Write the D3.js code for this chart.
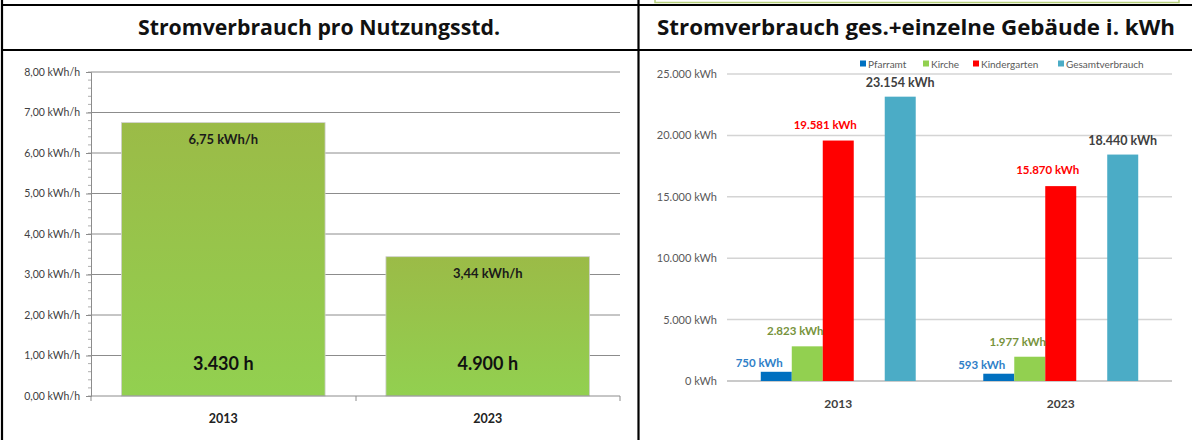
<!DOCTYPE html>
<html>
<head>
<meta charset="utf-8">
<script src="https://cdn.jsdelivr.net/npm/d3@7"></script>
<style>
  body { margin: 0; background: #fff; }
  svg { display: block; font-family: Lato, "Open Sans", sans-serif; }
</style>
</head>
<body>
<svg id="chart" width="1192" height="440"></svg>
<script>
// data
const years = ["2013", "2023"];
const kwhPerHour = [6.75, 3.44];
const usageHours = [3430, 4900];
const hourTicks = [0, 1, 2, 3, 4, 5, 6, 7, 8];

const seriesNames = ["Pfarramt", "Kirche", "Kindergarten", "Gesamtverbrauch"];
const pfarramt = [750, 593];
const kirche = [2823, 1977];
const kindergarten = [19581, 15870];
const gesamt = [23154, 18440];
const kwhTicks = [0, 5000, 10000, 15000, 20000, 25000];

const de = d3.formatLocale({decimal: ",", thousands: ".", grouping: [3], currency: ["", "€"]});
const f2 = de.format(",.2f");
const f0 = de.format(",.0f");

const svg = d3.select("#chart");

// table frame
const frame = svg.append("g").attr("stroke", "#000").attr("stroke-width", 2.2);
frame.append("rect").attr("x", 655).attr("y", -2).attr("width", 524).attr("height", 4.5)
  .attr("fill", "none").attr("stroke", "#b5cf7a").attr("stroke-width", 1.5);
frame.append("line").attr("x1", 2).attr("x2", 1192).attr("y1", 5).attr("y2", 5);
frame.append("line").attr("x1", 2).attr("x2", 1192).attr("y1", 50).attr("y2", 50);
frame.append("line").attr("x1", 2).attr("x2", 2).attr("y1", 0).attr("y2", 440);
frame.append("line").attr("x1", 638.5).attr("x2", 638.5).attr("y1", 0).attr("y2", 440);

svg.append("text").attr("x", 319).attr("y", 35).attr("text-anchor", "middle")
  .attr("font-family", "'Open Sans', sans-serif")
  .attr("font-size", 21).attr("font-weight", "bold").attr("fill", "#111")
  .attr("textLength", 362).attr("lengthAdjust", "spacingAndGlyphs")
  .text("Stromverbrauch pro Nutzungsstd.");
svg.append("text").attr("x", 916).attr("y", 35).attr("text-anchor", "middle")
  .attr("font-family", "'Open Sans', sans-serif")
  .attr("font-size", 21).attr("font-weight", "bold").attr("fill", "#111")
  .attr("textLength", 518).attr("lengthAdjust", "spacingAndGlyphs")
  .text("Stromverbrauch ges.+einzelne Gebäude i. kWh");

// ---------- left chart ----------
const lx = d3.scaleBand().domain(years).range([91, 620]).paddingInner(0.23).paddingOuter(0.115);
const ly = d3.scaleLinear().domain([0, 8]).range([396, 72]);

const defs = svg.append("defs");
const grad = defs.append("linearGradient").attr("id", "barGrad")
  .attr("x1", 0).attr("x2", 0).attr("y1", 0).attr("y2", 1);
grad.append("stop").attr("offset", "0%").attr("stop-color", "#9bbb47");
grad.append("stop").attr("offset", "100%").attr("stop-color", "#92d050");

const left = svg.append("g");

left.append("g")
  .selectAll("line").data(hourTicks.slice(1)).join("line")
  .attr("x1", 91).attr("x2", 620)
  .attr("y1", d => ly(d)).attr("y2", d => ly(d))
  .attr("stroke", "#8c8c8c").attr("stroke-width", 1);

left.append("g")
  .selectAll("rect").data(years).join("rect")
  .attr("x", d => lx(d)).attr("width", lx.bandwidth())
  .attr("y", (d, i) => ly(kwhPerHour[i]))
  .attr("height", (d, i) => ly(0) - ly(kwhPerHour[i]))
  .attr("fill", "url(#barGrad)")
  .attr("stroke", "#d0d0d0").attr("stroke-width", 0.8);

// minor ticks
const minor = d3.range(0, 8.001, 0.2);
left.append("g")
  .selectAll("line").data(minor).join("line")
  .attr("x1", 88).attr("x2", 91)
  .attr("y1", d => ly(d)).attr("y2", d => ly(d))
  .attr("stroke", "#999").attr("stroke-width", 0.8);

const lAxis = left.append("g").attr("transform", "translate(91,0)")
  .call(d3.axisLeft(ly).tickValues(hourTicks).tickSize(5).tickPadding(6)
    .tickFormat(d => f2(d) + " kWh/h"));
lAxis.select(".domain").attr("stroke", "#8c8c8c");
lAxis.selectAll(".tick line").attr("stroke", "#8c8c8c");
lAxis.selectAll("text").attr("font-family", "Lato, sans-serif").attr("font-size", 10.5).attr("fill", "#404040");

const lxAxis = left.append("g").attr("transform", "translate(0,396)");
lxAxis.append("line").attr("x1", 91).attr("x2", 620).attr("stroke", "#8c8c8c");
lxAxis.selectAll("line.t").data([91, 356, 620]).join("line").attr("class", "t")
  .attr("x1", d => d).attr("x2", d => d).attr("y1", 0).attr("y2", 5).attr("stroke", "#8c8c8c");
lxAxis.selectAll("text").data(years).join("text")
  .attr("x", d => lx(d) + lx.bandwidth() / 2).attr("y", 27)
  .attr("text-anchor", "middle").attr("font-size", 12.5).attr("font-weight", "bold").attr("fill", "#222")
  .text(d => d);

left.append("g").selectAll("text").data(years).join("text")
  .attr("x", d => lx(d) + lx.bandwidth() / 2)
  .attr("y", (d, i) => ly(kwhPerHour[i]) + 21)
  .attr("text-anchor", "middle").attr("font-size", 13).attr("font-weight", "bold").attr("fill", "#1a1a1a")
  .text((d, i) => f2(kwhPerHour[i]) + " kWh/h");

left.append("g").selectAll("text").data(years).join("text")
  .attr("x", d => lx(d) + lx.bandwidth() / 2)
  .attr("y", 370)
  .attr("text-anchor", "middle").attr("font-size", 18).attr("font-weight", "bold").attr("fill", "#111")
  .text((d, i) => f0(usageHours[i]) + " h");

// ---------- right chart ----------
const rows = years.map((y, i) => ({
  year: y,
  values: [
    {name: "Pfarramt", v: pfarramt[i]},
    {name: "Kirche", v: kirche[i]},
    {name: "Kindergarten", v: kindergarten[i]},
    {name: "Gesamtverbrauch", v: gesamt[i]}
  ]
}));

const rx = d3.scaleBand().domain(years).range([727, 1172]);
const slots = ["Pfarramt", "Kirche", "Kindergarten", "_leer", "Gesamtverbrauch"];
const rxi = d3.scaleBand().domain(slots).range([0, rx.bandwidth()]).paddingOuter(1.09);
const ry = d3.scaleLinear().domain([0, 25000]).range([381, 74]);

const color = d3.scaleOrdinal().domain(seriesNames).range(["#0070c0", "#92d050", "#ff0000", "#4bacc6"]);
const labelColor = d3.scaleOrdinal().domain(seriesNames).range(["#2f7fc8", "#77933c", "#ff0000", "#404040"]);
const labelDx = {Pfarramt: -17, Kirche: -12, Kindergarten: -13, Gesamtverbrauch: 0};
const labelGap = {Pfarramt: 5, Kirche: 11, Kindergarten: 12, Gesamtverbrauch: 10};

const right = svg.append("g");

right.append("g").selectAll("line").data(kwhTicks).join("line")
  .attr("x1", 727).attr("x2", 1172)
  .attr("y1", d => ry(d)).attr("y2", d => ry(d))
  .attr("stroke", d => d === 0 ? "#b8b8b8" : "#d4d4d4").attr("stroke-width", 1.5);

const rAxis = right.append("g").attr("transform", "translate(727,0)")
  .call(d3.axisLeft(ry).tickValues(kwhTicks).tickSize(0).tickPadding(10)
    .tickFormat(d => f0(d) + " kWh"));
rAxis.select(".domain").remove();
rAxis.selectAll("text").attr("font-family", "Lato, sans-serif").attr("font-size", 11).attr("fill", "#595959");

const groups = right.append("g").selectAll("g").data(rows).join("g")
  .attr("transform", d => `translate(${rx(d.year)},0)`);

groups.selectAll("rect").data(d => d.values).join("rect")
  .attr("x", d => rxi(d.name)).attr("width", rxi.bandwidth())
  .attr("y", d => ry(d.v)).attr("height", d => ry(0) - ry(d.v))
  .attr("fill", d => color(d.name));

groups.selectAll("text").data(d => d.values).join("text")
  .attr("x", d => rxi(d.name) + rxi.bandwidth() / 2 + labelDx[d.name])
  .attr("y", d => ry(d.v) - labelGap[d.name])
  .attr("text-anchor", "middle")
  .attr("font-size", d => d.name === "Gesamtverbrauch" ? 12.5 : 11.5)
  .attr("font-weight", "bold")
  .attr("fill", d => labelColor(d.name))
  .text(d => f0(d.v) + " kWh");

right.append("g").selectAll("text").data(years).join("text")
  .attr("x", d => rx(d) + rxi("Kindergarten") + rxi.bandwidth() / 2)
  .attr("y", 408)
  .attr("text-anchor", "middle").attr("font-size", 12).attr("font-weight", "bold").attr("fill", "#404040")
  .text(d => d);

// legend
const legendX = [860, 923, 973, 1058];
const legend = right.append("g").selectAll("g").data(seriesNames).join("g")
  .attr("transform", (d, i) => `translate(${legendX[i]},64)`);
legend.append("rect").attr("x", 0).attr("y", -3.5).attr("width", 6).attr("height", 6)
  .attr("fill", d => color(d));
legend.append("text").attr("x", 8).attr("y", 3.5)
  .attr("font-size", 10).attr("fill", "#595959").text(d => d);
</script>
</body>
</html>
